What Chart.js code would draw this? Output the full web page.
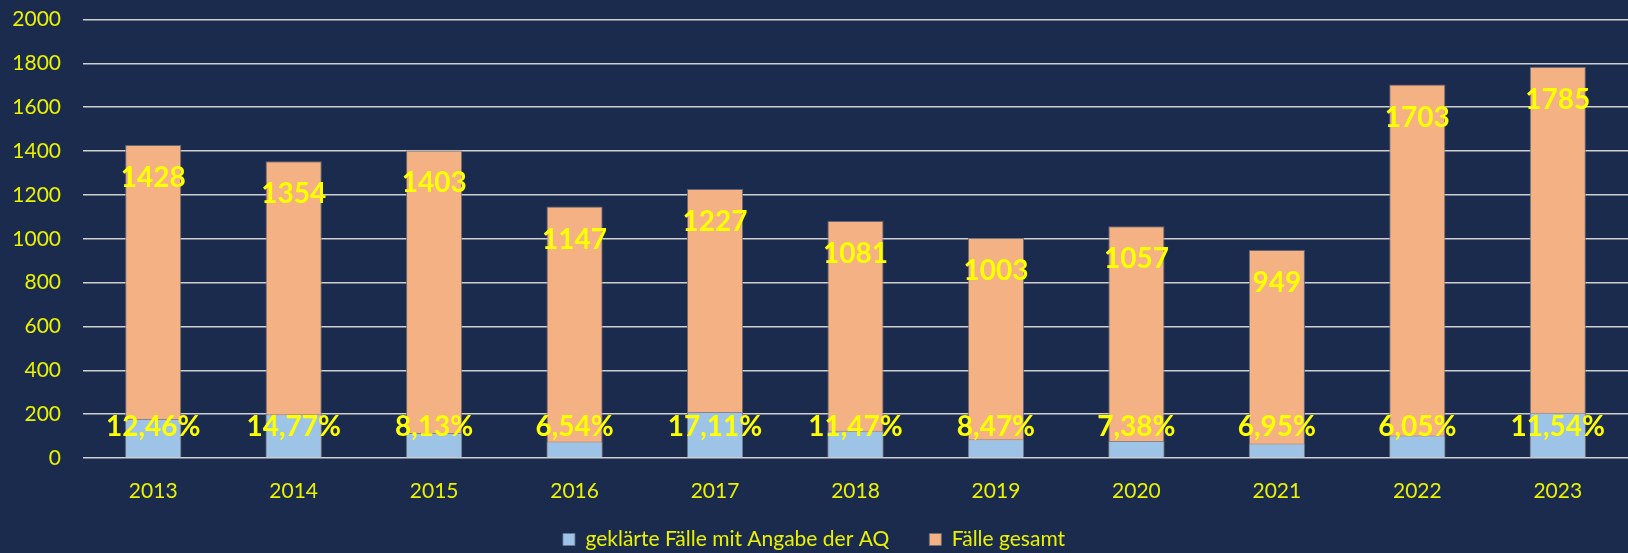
<!DOCTYPE html>
<html><head><meta charset="utf-8">
<script src="https://cdn.jsdelivr.net/npm/chart.js@4/dist/chart.umd.min.js"></script>
<style>html,body{margin:0;padding:0;background:#1a2b4d;overflow:hidden}canvas{display:block}</style>
</head><body>
<canvas id="c" width="1628" height="553"></canvas>
<script>
const years = ['2013','2014','2015','2016','2017','2018','2019','2020','2021','2022','2023'];
const totalCases = [1428,1354,1403,1147,1227,1081,1003,1057,949,1703,1785];
const clearedCases = [178,200,114,75,210,124,85,78,66,103,206];
const clearedShare = ['12,46%','14,77%','8,13%','6,54%','17,11%','11,47%','8,47%','7,38%','6,95%','6,05%','11,54%'];
const seriesNames = ['geklärte Fälle mit Angabe der AQ','Fälle gesamt'];
const yMin = 0, yMax = 2000, yStep = 200;

const tickColor = '#eaf200';
const labelColor = '#ffff00';
const fontFam = 'Lato, "Open Sans", sans-serif';

const barLabels = {
  id: 'barLabels',
  afterDatasetsDraw(chart) {
    const ctx = chart.ctx;
    ctx.save();
    ctx.font = 'bold 28px ' + fontFam;
    ctx.fillStyle = labelColor;
    ctx.textAlign = 'center';
    ctx.textBaseline = 'middle';
    chart.getDatasetMeta(1).data.forEach((el, i) => {
      ctx.fillText(String(totalCases[i]), el.x, el.y + 33);
    });
    chart.getDatasetMeta(0).data.forEach((el, i) => {
      ctx.fillText(clearedShare[i], el.x, el.base - 30);
    });
    ctx.restore();
  }
};

const layoutTweak = {
  id: 'layoutTweak',
  afterLayout(chart) {
    const x = chart.scales.x;
    x.bottom = x.top + 60;
    x.height = 60;
    const lg = chart.legend;
    lg.top += 7;
    lg.bottom += 7;
  }
};

new Chart(document.getElementById('c'), {
  type: 'bar',
  data: {
    labels: years,
    datasets: [
      { label: seriesNames[0], data: clearedCases, backgroundColor: '#9dc3e6', borderColor: 'rgba(110,120,140,0.8)', borderWidth: 1, grouped: false, barPercentage: 0.4, categoryPercentage: 1 },
      { label: seriesNames[1], data: totalCases, backgroundColor: '#f4b183', borderColor: 'rgba(110,110,120,0.9)', borderWidth: 1, grouped: false, barPercentage: 0.4, categoryPercentage: 1 }
    ]
  },
  options: {
    responsive: false,
    devicePixelRatio: 1,
    animation: false,
    layout: { padding: { top: 19.5, right: 0, left: 0, bottom: 0 } },
    plugins: {
      tooltip: { enabled: false },
      legend: {
        position: 'bottom',
        labels: { color: tickColor, font: { size: 21, family: fontFam }, boxWidth: 12, boxHeight: 12, padding: 40 }
      }
    },
    scales: {
      x: {
        grid: { display: false },
        border: { display: false },
        ticks: { color: tickColor, font: { size: 21, family: fontFam }, padding: 13 },
        afterFit(s) { s.height = 24; }
      },
      y: {
        min: yMin, max: yMax,
        grid: { color: '#d0d0d0', lineWidth: 1.5, drawTicks: false },
        border: { display: false },
        ticks: { stepSize: yStep, color: tickColor, font: { size: 21, family: fontFam }, padding: 22, callback: v => String(v) },
        afterFit(s) { s.width = 83; s.paddingTop = 5; s.paddingBottom = 5; }
      }
    }
  },
  plugins: [barLabels, layoutTweak]
});
</script>
</body></html>
